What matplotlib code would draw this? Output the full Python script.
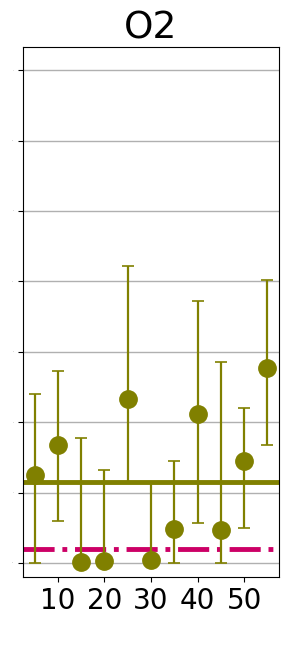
import numpy as np
import matplotlib
matplotlib.use("Agg")
import matplotlib.pyplot as plt

# sample positions and values
xpos = [5, 10, 15, 20, 25, 30, 35, 40, 45, 50, 55]
vals = [1.25, 1.68, 0.01, 0.03, 2.33, 0.04, 0.48, 2.12, 0.47, 1.45, 2.77]
err_lo = [0.0, 0.60, 0.0, 0.0, 1.15, 0.0, 0.0, 0.57, 0.0, 0.50, 1.68]
err_hi = [2.40, 2.73, 1.78, 1.32, 4.22, 1.15, 1.45, 3.72, 2.86, 2.20, 4.02]
mean_level = 1.15
ref_level = 0.20
yticks = [0, 1, 2, 3, 4, 5, 6, 7]
xticks = [10, 20, 30, 40, 50]

lower = np.array(vals) - np.array(err_lo)
upper = np.array(err_hi) - np.array(vals)

fig = plt.figure(figsize=(2.88, 6.68), dpi=100)
ax = fig.add_axes([23/288, 91/668, 256/288, 530/668])

ax.grid(axis="y", color="#b0b0b0", lw=1, zorder=0)
ax.axhline(ref_level, color="#cc0066", lw=3.5, ls="-.", zorder=2)
ax.axhline(mean_level, color="olive", lw=3.5, zorder=2)
ax.errorbar(xpos, vals, yerr=[lower, upper], fmt="o", color="olive",
            ms=12.5, elinewidth=1.6, capsize=4.5, capthick=1.2, zorder=3)

ax.set_xlim(2.5, 57.5)
ax.set_ylim(-0.2, 7.33)
ax.set_xticks(xticks)
ax.set_xticklabels([str(t) for t in xticks], fontsize=20)
ax.set_yticks(yticks)
ax.set_yticklabels([str(t) for t in yticks], fontsize=1, color="gray")
ax.set_title("O2", fontsize=27)
for s in ax.spines.values():
    s.set_color("black")

fig.savefig("out.png", dpi=100)
